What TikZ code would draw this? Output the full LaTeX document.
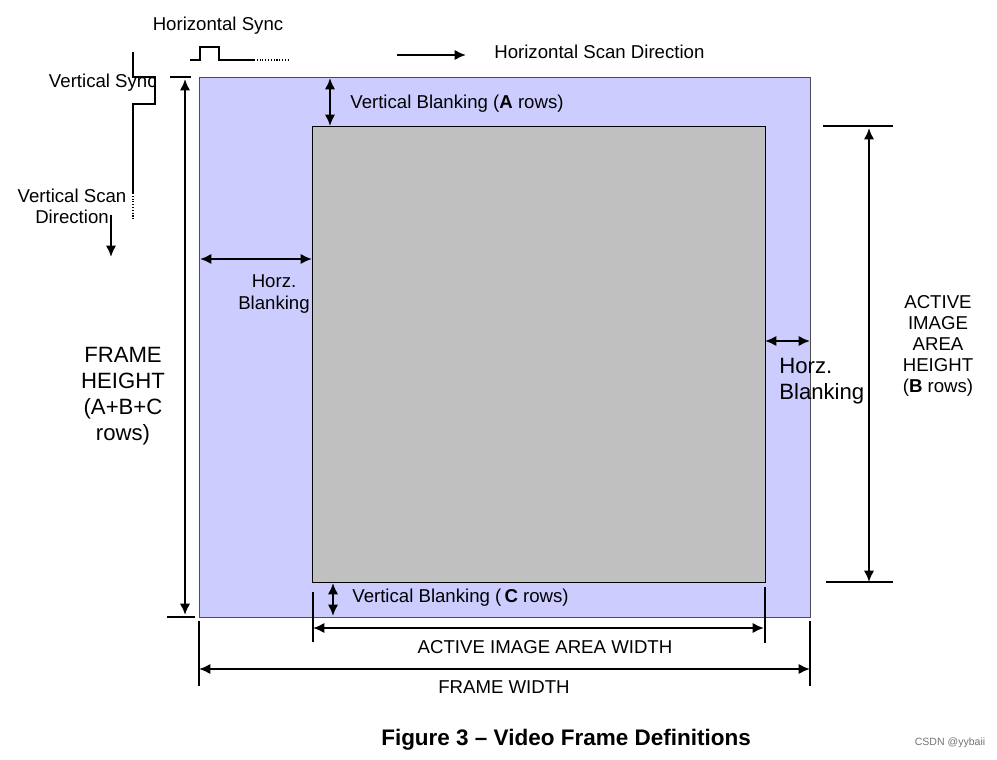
\documentclass[tikz,border=0pt]{standalone}
\usepackage{fontspec}
\setmainfont{Liberation Sans}
\usetikzlibrary{arrows.meta}
\definecolor{Blank}{HTML}{CCCCFF}
\definecolor{Active}{HTML}{C0C0C0}
\tikzset{
    lbl/.style={font=\fontsize{10.6}{12}\selectfont, inner sep=0pt, align=center},
    biglbl/.style={font=\fontsize{12.6}{14.8}\selectfont, inner sep=0pt, align=center},
    dimarrow/.style={{Latex[length=6.5pt,width=6pt]}-{Latex[length=6.5pt,width=6pt]}, line width=1.6pt},
    scanarrow/.style={-{Latex[length=6.5pt,width=6pt]}, line width=1.5pt},
    tick/.style={line width=0.6pt},
    sync/.style={line width=0.6pt},
}

\begin{document}
\begin{tikzpicture}[x=0.02cm, y=-0.02cm]
                \useasboundingbox (0,0) rectangle (997,760);
                % Frame and active area
                \draw[fill=Blank, draw=black!70, line width=0.5pt] (199,77) coordinate (ftl) rectangle (810,617) coordinate (fbr);
                \draw[fill=Active, draw=black, line width=0.5pt] (312,126) coordinate (atl) rectangle (765,582) coordinate (abr);

                % Sync waveforms
                \draw[sync] (190,60) -- (200,60) -- (200,47) -- (219,47) -- (219,60) -- (254,60);
                \draw[sync, densely dotted] (254,60) -- (290,60);
                \draw[sync] (133,52) -- (133,77) -- (155,77) -- (155,104) -- (133,104) -- (133,193);
                \draw[sync, densely dotted] (133,193) -- (133,220);

                % Labels
                \node[lbl] (hsync) at (218,26) {Horizontal Sync};
                \node[lbl, anchor=east] (vsync) at (157,83) {Vertical Sync};
                \node[lbl] (vscan) at (72,206) {Vertical Scan\\Direction};
                \node[lbl, anchor=west] (hscan) at (494,52) {Horizontal Scan Direction};
                \node[lbl, anchor=west] (vblanka) at (350,104) {Vertical Blanking (\textbf{A} rows)};
                \node[lbl, anchor=west] (vblankc) at (352,598) {Vertical Blanking (\,\textbf{C} rows)};
                \node[lbl] (hblankl) at (274,294) {Horz.\\Blanking};
                \node[biglbl, anchor=west, align=left] (hblankr) at (779,381) {Horz.\\Blanking};
                \node[lbl] (aheight) at (938,346) {ACTIVE\\IMAGE\\AREA\\HEIGHT\\(\textbf{B} rows)};
                \node[biglbl] (fheight) at (123,396) {FRAME\\HEIGHT\\(A+B+C\\rows)};
                \node[lbl] (awidth) at (545,647) {ACTIVE IMAGE AREA WIDTH};
                \node[lbl] (fwidth) at (504,687) {FRAME WIDTH};
                \node[font=\fontsize{12.8}{15}\selectfont\bfseries, inner sep=0pt] (caption) at (566,740) {Figure 3 -- Video Frame Definitions};
                \node[font=\fontsize{6}{7}\selectfont, text=black!55, inner sep=0pt] (mark) at (950,743) {CSDN @yybaii};

                % Arrow ends
                \coordinate (vs1) at (111,215);  \coordinate (vs2) at (111,257);
                \coordinate (hs1) at (397,55);   \coordinate (hs2) at (466,55);
                \coordinate (fh1) at (185,79);   \coordinate (fh2) at (185,615);
                \coordinate (va1) at (330,78);   \coordinate (va2) at (330,126);
                \coordinate (vc1) at (333,583);  \coordinate (vc2) at (333,616);
                \coordinate (hl1) at (200,259);  \coordinate (hl2) at (312,259);
                \coordinate (hr1) at (765,341);  \coordinate (hr2) at (810,341);
                \coordinate (ah1) at (869,128);  \coordinate (ah2) at (869,582);
                \coordinate (aw1) at (313,628);  \coordinate (aw2) at (764,628);
                \coordinate (fw1) at (199,669);  \coordinate (fw2) at (810,669);

                % Ticks
                \draw[tick] (170,77) -- (191,77);
                \draw[tick] (167,617) -- (195,617);
                \draw[tick] (823,126) -- (893,126);
                \draw[tick] (826,582) -- (893,582);
                \draw[tick] (313,592) -- (313,642);
                \draw[tick] (765,587) -- (765,643);
                \draw[tick] (199,621) -- (199,686);
                \draw[tick] (810,621) -- (810,686);

                % Arrows
                \draw[scanarrow] (vs1) -- (vs2);
                \draw[scanarrow] (hs1) -- (hs2);
                \draw[dimarrow] (fh1) -- (fh2);
                \draw[dimarrow] (va1) -- (va2);
                \draw[dimarrow] (vc1) -- (vc2);
                \draw[dimarrow] (hl1) -- (hl2);
                \draw[dimarrow] (hr1) -- (hr2);
                \draw[dimarrow] (ah1) -- (ah2);
                \draw[dimarrow] (aw1) -- (aw2);
                \draw[dimarrow] (fw1) -- (fw2);
            \end{tikzpicture}
\end{document}
